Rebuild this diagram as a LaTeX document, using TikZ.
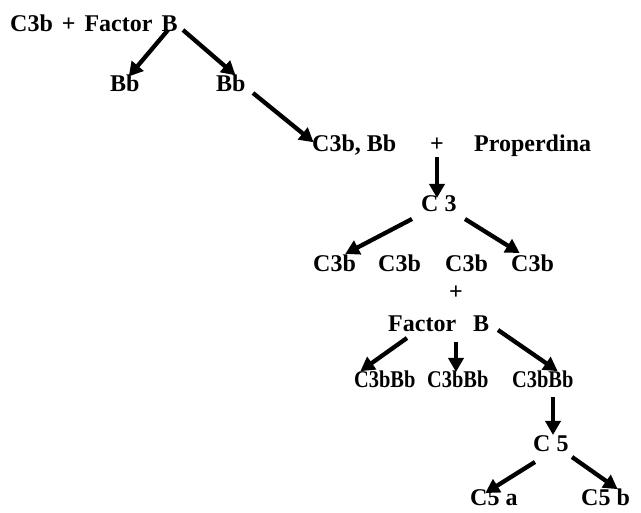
\documentclass[tikz,border=0pt]{standalone}
\usepackage{fontspec}
\setmainfont{Liberation Serif}
\usetikzlibrary{arrows.meta}
\begin{document}
\begin{tikzpicture}[x=1pt,y=-1pt,
  lbl/.style={font=\fontsize{24}{28}\selectfont\bfseries, inner sep=0pt, anchor=base west},
  arr/.style={line width=4.3pt, -{Triangle[width=15pt,length=14pt]}, shorten >=-2pt}]
\useasboundingbox (0,0) rectangle (641,513);
% nodes
\node[lbl] (top) at (10,32) {C3b\hskip 9pt+\hskip 9pt Factor\hskip 9pt B};
\node[lbl] (bb1) at (110,92) {Bb};
\node[lbl] (bb2) at (216,92) {Bb};
\node[lbl] (cbb) at (312,152) {C3b, Bb};
\node[lbl,anchor=base] (plus1) at (437,152) {+};
\node[lbl] (prop) at (474,152) {Properdina};
\node[lbl] (c3) at (421,212) {C 3};
\node[lbl] (c3ba) at (313,272) {C3b};
\node[lbl] (c3bb) at (378,272) {C3b};
\node[lbl] (c3bc) at (445,272) {C3b};
\node[lbl] (c3bd) at (511,272) {C3b};
\node[lbl,anchor=base] (plus2) at (456,300) {+};
\node[lbl] (facb) at (388,332) {Factor\hskip 17pt B};
\node[lbl] (cbba) at (354,388) {\scalebox{0.85}[1]{C3bBb}};
\node[lbl] (cbbb) at (427,388) {\scalebox{0.85}[1]{C3bBb}};
\node[lbl] (cbbc) at (512,388) {\scalebox{0.85}[1]{C3bBb}};
\node[lbl] (c5) at (533,452) {C 5};
\node[lbl] (c5a) at (470,506) {C5 a};
\node[lbl] (c5b) at (581,506) {C5 b};
% connector end points
\coordinate (t1s) at (168,30);  \coordinate (t1e) at (130,75);
\coordinate (t2s) at (183,30);  \coordinate (t2e) at (234,74);
\coordinate (b2s) at (253,93);  \coordinate (b2e) at (312,141);
\coordinate (p1s) at (437,157); \coordinate (p1e) at (437,196);
\coordinate (c3ls) at (412,219); \coordinate (c3le) at (347,253);
\coordinate (c3rs) at (465,219); \coordinate (c3re) at (518,252);
\coordinate (fbls) at (407,338); \coordinate (fble) at (362,370);
\coordinate (fbms) at (456,342); \coordinate (fbme) at (456,370);
\coordinate (fbrs) at (498,330); \coordinate (fbre) at (556,370);
\coordinate (ccs) at (553,397);  \coordinate (cce) at (553,433);
\coordinate (c5ls) at (535,462); \coordinate (c5le) at (487,492);
\coordinate (c5rs) at (572,457); \coordinate (c5re) at (616,488);
% connectors
\draw[arr] (t1s) -- (t1e);
\draw[arr] (t2s) -- (t2e);
\draw[arr] (b2s) -- (b2e);
\draw[arr] (p1s) -- (p1e);
\draw[arr] (c3ls) -- (c3le);
\draw[arr] (c3rs) -- (c3re);
\draw[arr] (fbls) -- (fble);
\draw[arr] (fbms) -- (fbme);
\draw[arr] (fbrs) -- (fbre);
\draw[arr] (ccs) -- (cce);
\draw[arr] (c5ls) -- (c5le);
\draw[arr] (c5rs) -- (c5re);
\end{tikzpicture}
\end{document}
